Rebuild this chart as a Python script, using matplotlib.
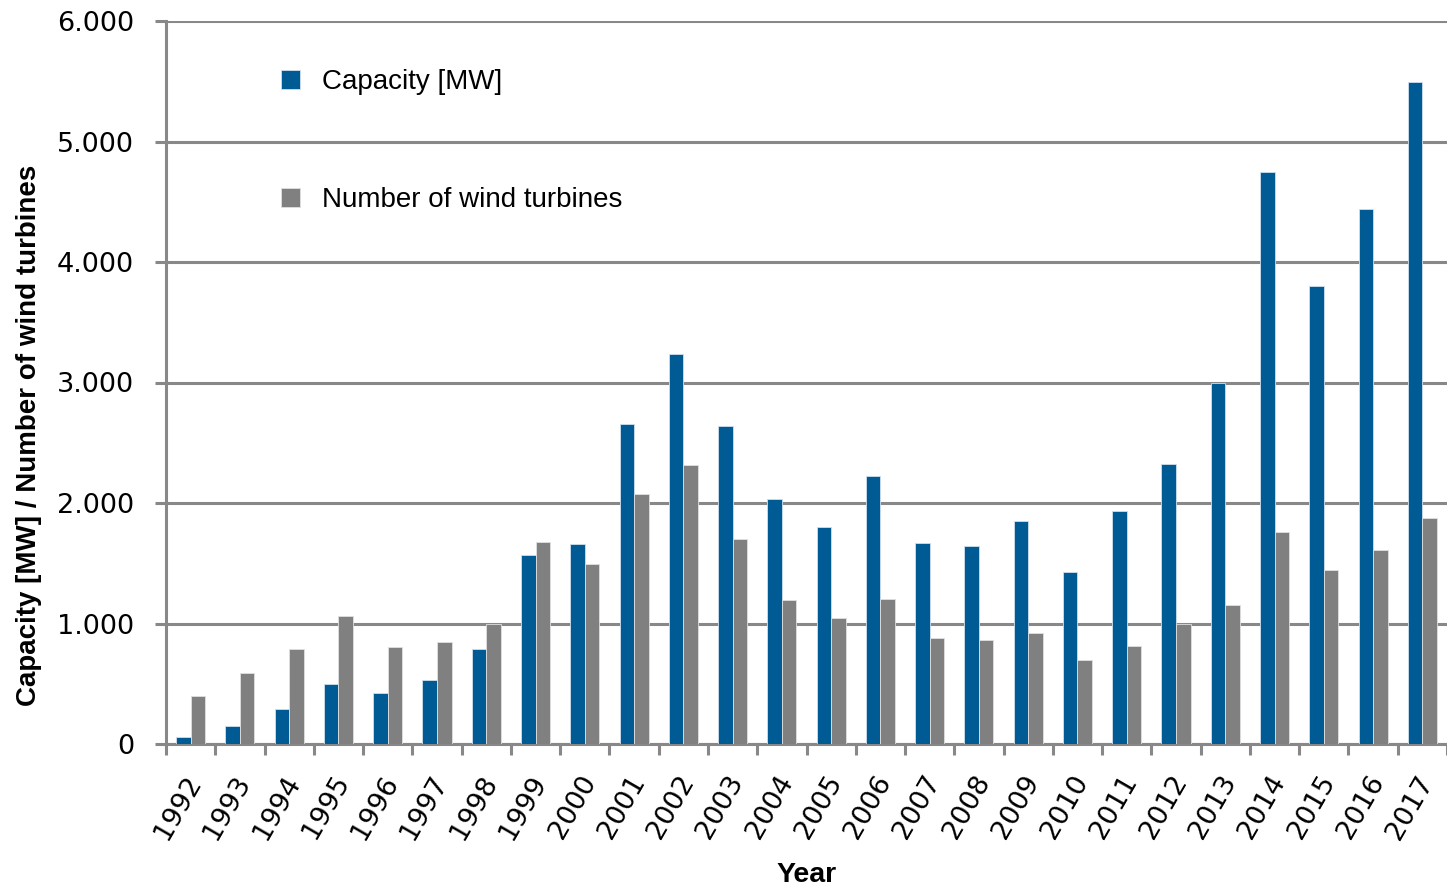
import matplotlib
matplotlib.use("Agg")
import matplotlib.pyplot as plt
import matplotlib.transforms as mtransforms
import numpy as np

years = ["1992", "1993", "1994", "1995", "1996", "1997", "1998", "1999", "2000",
         "2001", "2002", "2003", "2004", "2005", "2006", "2007", "2008", "2009",
         "2010", "2011", "2012", "2013", "2014", "2015", "2016", "2017"]
capacity_mw = [62, 147, 290, 500, 423, 528, 791, 1568, 1662,
               2653, 3239, 2642, 2030, 1804, 2227, 1666, 1646, 1851,
               1428, 1936, 2324, 3000, 4748, 3797, 4437, 5490]
n_turbines = [398, 587, 791, 1062, 802, 849, 996, 1676, 1494,
              2077, 2318, 1698, 1197, 1048, 1206, 880, 861, 924,
              697, 817, 1000, 1150, 1760, 1446, 1614, 1877]
y_ticks = [0, 1000, 2000, 3000, 4000, 5000, 6000]
y_tick_labels = ["0", "1.000", "2.000", "3.000", "4.000", "5.000", "6.000"]
series_labels = ["Capacity [MW]", "Number of wind turbines"]

BLUE = "#005A94"
GRAY = "#808080"
LINE = "#888888"

fig = plt.figure(figsize=(14.47, 8.89), dpi=100)
ax = fig.add_axes([166/1447, (889-744)/889, (1447-166)/1447, (744-21)/889])

x = np.arange(len(years))
w = 0.295
b1 = ax.bar(x - w/2, capacity_mw, width=w, color=BLUE, edgecolor="#cfe0ee", linewidth=0.6,
            label=series_labels[0], zorder=3)
b2 = ax.bar(x + w/2, n_turbines, width=w, color=GRAY, edgecolor="#e0e0e0", linewidth=0.6,
            label=series_labels[1], zorder=3)

ax.set_xlim(-0.5, len(years) - 0.5)
ax.set_ylim(0, 6000)
ax.set_axisbelow(True)

ax.set_yticks(y_ticks)
ax.set_yticklabels(y_tick_labels, fontsize=19.5, family="DejaVu Sans")
ax.yaxis.grid(True, color=LINE, linewidth=2.2)
ax.tick_params(axis="y", length=8, width=2.2, color=LINE, pad=15)

# x ticks at category boundaries, labels at centers
ax.set_xticks(np.arange(len(years) + 1) - 0.5)
ax.set_xticklabels([])
ax.set_xticks(x, minor=True)
ax.set_xticklabels(years, minor=True, rotation=60, ha="right", va="center",
                   rotation_mode="anchor", fontsize=19.5, family="DejaVu Sans")
ax.tick_params(axis="x", which="major", length=8, width=2.2, color=LINE)
ax.tick_params(axis="x", which="minor", length=0, pad=24)
offset = mtransforms.ScaledTranslation(5/100, 0, fig.dpi_scale_trans)
for lbl in ax.get_xticklabels(minor=True):
    lbl.set_transform(lbl.get_transform() + offset)

for s in ["top", "right"]:
    ax.spines[s].set_visible(False)
for s in ["left", "bottom"]:
    ax.spines[s].set_color(LINE)
    ax.spines[s].set_linewidth(2.2)

ax.set_ylabel("Capacity [MW] / Number of wind turbines", fontsize=20,
              fontweight="bold", family="Liberation Sans")
ax.yaxis.set_label_coords(-0.097, 0.427)
ax.set_xlabel("Year", fontsize=20.5, fontweight="bold", family="Liberation Sans", labelpad=13)

leg = ax.legend(handles=[b1, b2], loc="upper left", bbox_to_anchor=(0.0898, 0.933),
                frameon=False, prop={"family": "Liberation Sans", "size": 20},
                labelspacing=3.31, handlelength=0.68, handleheight=0.68,
                handletextpad=0.79, borderpad=0, borderaxespad=0)

fig.savefig("out.png", dpi=100)
